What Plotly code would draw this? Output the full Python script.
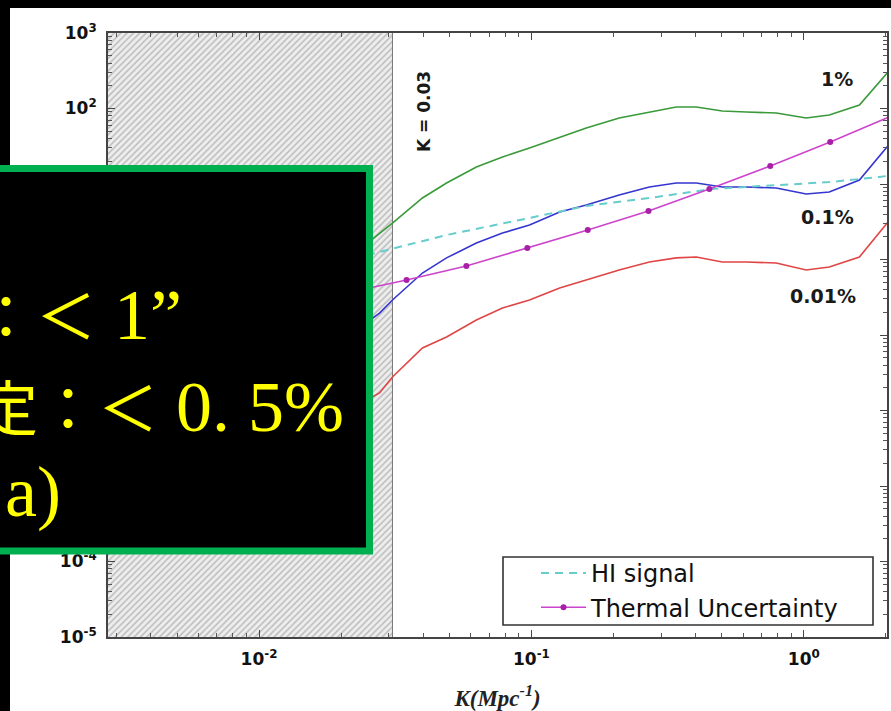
import math
import plotly.graph_objects as go

# ---------------- data ----------------
k_noise = [0.0198, 0.0277, 0.0309, 0.0398, 0.0488, 0.0628, 0.0783, 0.0984, 0.127, 0.159,
           0.210, 0.271, 0.340, 0.403, 0.502, 0.615, 0.792, 1.02, 1.24, 1.60, 2.03]
pk_1pct = [0.845, 2.24, 3.04, 6.53, 10.3, 16.8, 22.8, 30.0, 42.0, 55.2,
           74.8, 89.9, 104.8, 104.8, 92.7, 89.9, 87.1, 74.8, 82.0, 111.0, 300.0]
pk_01pct = [0.081, 0.195, 0.291, 0.662, 1.05, 1.65, 2.24, 2.86, 4.26, 5.27,
            7.14, 9.12, 10.3, 10.3, 9.12, 9.12, 8.85, 7.38, 7.84, 11.3, 31.5]
pk_001pct = [0.0087, 0.0171, 0.0278, 0.0673, 0.0942, 0.158, 0.228, 0.291, 0.420, 0.535,
             0.726, 0.927, 1.05, 1.08, 0.927, 0.927, 0.899, 0.726, 0.796, 1.08, 3.1]

k_hi = [0.0198, 0.0277, 0.0328, 0.0488, 0.0983, 0.159, 0.271, 0.461, 0.812, 1.24, 1.89, 2.03]
pk_hi = [0.927, 1.26, 1.47, 2.11, 3.55, 5.12, 6.53, 8.6, 9.7, 10.6, 12.4, 12.8]

k_thermal = [0.0208, 0.0348, 0.0577, 0.0966, 0.161, 0.269, 0.450, 0.753, 1.25, 2.09]
pk_thermal = [0.36, 0.535, 0.82, 1.42, 2.46, 4.39, 8.6, 17.3, 36.0, 79.0]

k_cut = 0.0309
k_range = [0.00279, 2.02]
pk_range = [1e-5, 1e3]

x_tick_vals = [0.01, 0.1, 1]
x_tick_text = ["10<sup>-2</sup>", "10<sup>-1</sup>", "10<sup>0</sup>"]
y_tick_vals = [1e-5, 1e-4, 1e-3, 1e-2, 1e-1, 1, 10, 100, 1000]
y_tick_text = ["10<sup>-5</sup>", "10<sup>-4</sup>", "10<sup>-3</sup>", "10<sup>-2</sup>",
               "10<sup>-1</sup>", "10<sup>0</sup>", "10<sup>1</sup>", "10<sup>2</sup>", "10<sup>3</sup>"]

curve_labels = ["1%", "0.1%", "0.01%"]
cut_label = "K = 0.03"
legend_names = ["HI signal", "Thermal Uncertainty"]
x_title = "<i><b>K(Mpc<sup>-1</sup>)</b></i>"
overlay_cjk = ["度：＜", "定：＜", ""]
overlay_latin = [" 1”", " 0. 5%", "a)"]

# ---------------- geometry ----------------
W, H = 891, 711
ML, MT = 108, 33
PW, PH = 779, 604
MR, MB = W - ML - PW, H - MT - PH


def px(xs):
    return (xs - ML) / PW


def py(ys):
    return (MT + PH - ys) / PH


def minor_positions(lo_exp, hi_exp):
    return [m * 10.0 ** e for e in range(lo_exp, hi_exp) for m in range(2, 10)]


fig = go.Figure()

# hatched excluded region k < 0.03
fig.add_trace(go.Scatter(
    x=[k_range[0] / 2, k_cut, k_cut, k_range[0] / 2, k_range[0] / 2],
    y=[pk_range[0] / 10, pk_range[0] / 10, pk_range[1] * 10, pk_range[1] * 10, pk_range[0] / 10],
    mode="lines", fill="toself",
    fillcolor="#eeeeee",
    fillpattern=dict(shape="/", fgcolor="#8c8c8c", bgcolor="#eeeeee", size=4.5, solidity=0.35),
    line=dict(color="#777777", width=1),
    showlegend=False, hoverinfo="skip"))

fig.add_trace(go.Scatter(x=k_noise, y=pk_1pct, mode="lines",
                         line=dict(color="#3a9a3a", width=1.6), showlegend=False, name="1%"))
fig.add_trace(go.Scatter(x=k_noise, y=pk_01pct, mode="lines",
                         line=dict(color="#3535d0", width=1.6), showlegend=False, name="0.1%"))
fig.add_trace(go.Scatter(x=k_noise, y=pk_001pct, mode="lines",
                         line=dict(color="#e04545", width=1.6), showlegend=False, name="0.01%"))
fig.add_trace(go.Scatter(x=k_hi, y=pk_hi, mode="lines", name=legend_names[0],
                         line=dict(color="#66cccc", width=2, dash="8px,6px")))
fig.add_trace(go.Scatter(x=k_thermal, y=pk_thermal, mode="lines+markers", name=legend_names[1],
                         line=dict(color="#cc44cc", width=1.6),
                         marker=dict(color="#a81fa8", size=6)))

axis_common = dict(
    type="log", showline=True, mirror="allticks", linecolor="#444444", linewidth=1.8,
    ticks="inside", ticklen=7, tickwidth=1, tickcolor="#444444",
    showgrid=False, zeroline=False, tickmode="array", automargin=False,
    tickfont=dict(family="DejaVu Sans", size=17, color="#111111", weight="bold"),
)

fig.update_layout(
    width=W, height=H,
    margin=dict(l=ML, r=MR, t=MT, b=MB, autoexpand=False),
    paper_bgcolor="black", plot_bgcolor="white",
    font=dict(family="DejaVu Sans", color="#111111"),
    xaxis=dict(range=[math.log10(k_range[0]), math.log10(k_range[1])],
               tickvals=x_tick_vals, ticktext=x_tick_text, ticklabelstandoff=6,
               minor=dict(ticks="inside", ticklen=4, tickwidth=1, tickcolor="#555555",
                          tickmode="array", tickvals=minor_positions(-3, 1), showgrid=False),
               title=dict(text=x_title, standoff=26,
                          font=dict(family="Liberation Serif", size=23, color="#222222")),
               **axis_common),
    yaxis=dict(range=[math.log10(pk_range[0]), math.log10(pk_range[1])],
               tickvals=y_tick_vals, ticktext=y_tick_text, ticklabelstandoff=6,
               minor=dict(ticks="inside", ticklen=4, tickwidth=1, tickcolor="#555555",
                          tickmode="array", tickvals=minor_positions(-5, 3), showgrid=False),
               **axis_common),
    legend=dict(x=px(536), y=py(551), xanchor="left", yanchor="top",
                bgcolor="rgba(255,255,255,0)", borderwidth=0,
                font=dict(family="DejaVu Sans", size=24, color="#111111"),
                itemwidth=45, tracegroupgap=0),
    showlegend=True,
)

shapes = [
    # white page behind the chart
    dict(type="rect", xref="paper", yref="paper", x0=px(10), x1=px(W + 30), y0=py(H + 30), y1=py(8),
         fillcolor="white", line=dict(width=0), layer="below"),
    # legend frame
    dict(type="rect", xref="paper", yref="paper", x0=px(503), x1=px(873), y0=py(625), y1=py(557),
         fillcolor="rgba(0,0,0,0)", line=dict(color="#333333", width=1.6), layer="above"),
    # overlay callout box
    dict(type="rect", xref="paper", yref="paper", x0=px(-40), x1=px(369.5), y0=py(551), y1=py(168.5),
         fillcolor="black", line=dict(color="#00b050", width=7), layer="above"),
]
fig.update_layout(shapes=shapes)

ann = []
ann.append(dict(text=f"<b>{cut_label}</b>", xref="paper", yref="paper", x=px(424), y=py(112),
                xanchor="center", yanchor="middle",
                textangle=-90, showarrow=False, font=dict(family="DejaVu Sans", size=17, color="#1a1a1a")))
for lab, (cx, cy) in zip(curve_labels, [(837, 79), (827, 217), (823, 296)]):
    ann.append(dict(text=f"<b>{lab}</b>", xref="paper", yref="paper", x=px(cx), y=py(cy),
                    xanchor="center", yanchor="middle",
                    showarrow=False, font=dict(family="DejaVu Sans", size=19, color="#1a1a1a")))
for cjk, lat, (rx, cy) in zip(overlay_cjk, overlay_latin, [(184, 315), (346, 407), (63, 492)]):
    txt = (f'<span style="font-size:60px">{cjk}</span>' if cjk else "") + lat
    ann.append(dict(text=txt, xref="paper", yref="paper", x=px(rx), y=py(cy), xanchor="right",
                    yanchor="middle", showarrow=False,
                    font=dict(family="Liberation Serif, Noto Sans CJK JP", size=72, color="#ffff00")))
fig.update_layout(annotations=ann)

fig.write_html("out.html", config={"displayModeBar": False},
               post_script="document.body.style.margin='0';document.body.style.background='black';")
